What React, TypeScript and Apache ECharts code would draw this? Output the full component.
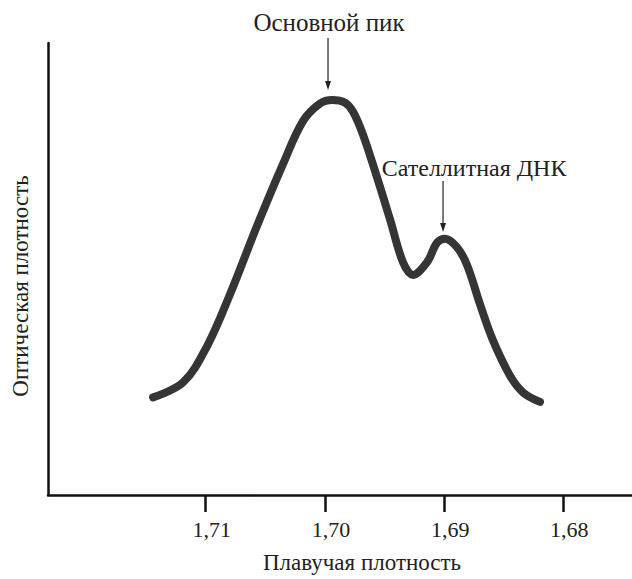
import React, { useEffect, useRef } from 'react';
import * as echarts from 'echarts';

// Buoyant density (g/cm3)
const densityValues = [
  1.71442, 1.7119, 1.70989, 1.70796, 1.7057, 1.70352, 1.70184, 1.70041, 1.6994,
  1.69831, 1.69764, 1.6968, 1.69563, 1.69454, 1.69345, 1.69261, 1.69143, 1.6906,
  1.68992, 1.68892, 1.68808, 1.68699, 1.6859, 1.68447, 1.68338, 1.68196,
];
// Optical density (arbitrary units, 0-100)
const opticalValues = [
  21.6, 24.9, 32.9, 44.4, 59.5, 73.2, 82.7, 86.6, 87.4, 86.8, 84.8, 79.7, 70.3, 61.0,
  51.5, 48.7, 51.5, 55.8, 56.7, 54.8, 50.9, 42.2, 34.2, 26.4, 22.7, 20.6,
];
const tickValues = [1.71, 1.7, 1.69, 1.68];
const xTitle = 'Плавучая плотность';
const yTitle = 'Оптическая плотность';
const annotationTexts = ['Основной пик', 'Сателлитная ДНК'];
const annotationX = [1.69974, 1.69009];
const annotationTipY = [89.6, 58.2];

const FONT = '"Liberation Serif", "Times New Roman", serif';

export default function App() {
  const ref = useRef<HTMLDivElement>(null);
  useEffect(() => {
    if (!ref.current) return;
    const chart = echarts.init(ref.current, null, { renderer: 'svg' });
    const data = densityValues.map((d, i) => [d, opticalValues[i]]);
    chart.setOption({
      animation: false,
      backgroundColor: '#ffffff',
      grid: { left: 48, right: 0, top: 43, bottom: 74 },
      xAxis: {
        type: 'value',
        inverse: true,
        min: 1.67424,
        max: 1.72323,
        name: xTitle,
        nameLocation: 'middle',
        nameGap: 56,
        nameTextStyle: { fontFamily: FONT, fontSize: 23, color: '#222', padding: [0, 0, 0, 44] },
        axisLine: { show: true, lineStyle: { color: '#111', width: 2.5 } },
        axisTick: { show: true, customValues: tickValues, length: 17, lineStyle: { color: '#111', width: 2.5 } },
        axisLabel: {
          customValues: tickValues,
          margin: 23,
          fontFamily: FONT,
          fontSize: 22,
          color: '#222',
          padding: [0, 0, 0, 12],
          formatter: (v: number) => v.toFixed(2).replace('.', ','),
        },
        splitLine: { show: false },
      },
      yAxis: {
        type: 'value',
        min: 0,
        max: 100,
        name: yTitle,
        nameLocation: 'middle',
        nameGap: 16,
        nameTextStyle: { fontFamily: FONT, fontSize: 23, color: '#222', padding: [0, 34, 0, 0] },
        axisLine: { show: true, lineStyle: { color: '#111', width: 2.5 } },
        axisTick: { show: false },
        axisLabel: { show: false },
        splitLine: { show: false },
      },
      series: [
        {
          type: 'line',
          data,
          smooth: 0.35,
          showSymbol: false,
          symbol: 'none',
          lineStyle: { color: '#353535', width: 8, cap: 'round', join: 'round' },
        },
      ],
    });

    const arrowStartPx = [38, 181];
    const labelYPx = [22, 168];
    const labelDx = [1, 31];
    const labelSize = [25, 24];
    const elements: any[] = [];
    annotationTexts.forEach((t, i) => {
      const p = chart.convertToPixel({ gridIndex: 0 }, [annotationX[i], annotationTipY[i]]) as number[];
      const x = p[0];
      const tip = p[1];
      elements.push({
        type: 'line',
        shape: { x1: x, y1: arrowStartPx[i], x2: x, y2: tip - 6 },
        style: { stroke: '#222', lineWidth: 1.2 },
      });
      elements.push({
        type: 'polygon',
        shape: { points: [[x - 3, tip - 9], [x + 3, tip - 9], [x, tip]] },
        style: { fill: '#222' },
      });
      elements.push({
        type: 'text',
        x: x + labelDx[i],
        y: labelYPx[i],
        style: { text: t, fontFamily: FONT, fontSize: labelSize[i], fill: '#222', align: 'center', verticalAlign: 'middle' },
      });
    });
    chart.setOption({ graphic: elements });

    return () => chart.dispose();
  }, []);
  return <div ref={ref} style={{ position: 'fixed', left: 0, top: 0, width: 632, height: 579 }} />;
}
